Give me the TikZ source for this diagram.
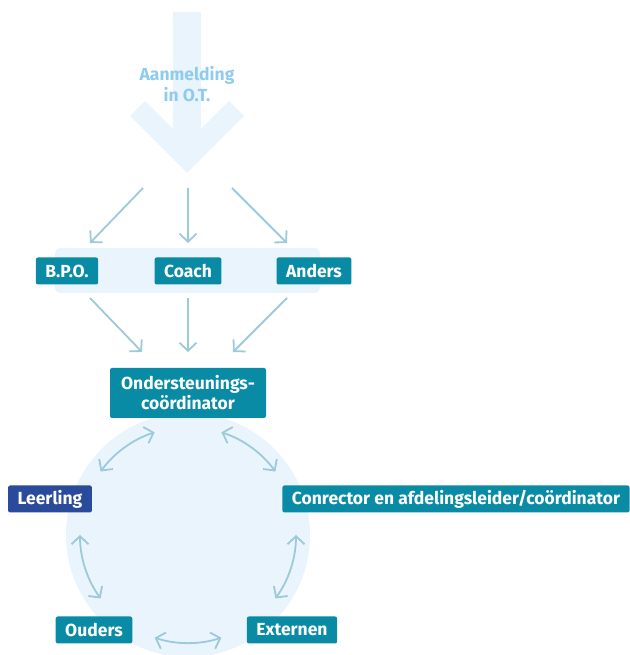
\documentclass[tikz,border=0pt]{standalone}
\usepackage{fontspec}
\setmainfont{Fira Sans}
\usepackage{tikz}
\usetikzlibrary{arrows.meta,positioning}

\definecolor{boxteal}{HTML}{0A8BA5}
\definecolor{boxblue}{HTML}{2A4B9C}
\definecolor{pale}{HTML}{EAF4FC}
\definecolor{flow}{HTML}{9DCAD9}
\definecolor{intake}{HTML}{8FCBEF}

\tikzset{
	role/.style={fill=boxteal, text=white, rounded corners=2pt, inner xsep=9.5pt,
		minimum height=27pt, font=\fontsize{17.5}{20}\selectfont\bfseries},
	pupil/.style={role, fill=boxblue},
	link/.style={draw=flow, line width=1.8pt, -{Straight Barb[length=8pt,width=17pt]}},
	both/.style={link, {Straight Barb[length=8pt,width=17pt]}-{Straight Barb[length=8pt,width=17pt]}}
}

\begin{document}
\begin{tikzpicture}[x=1pt, y=1pt]
	\useasboundingbox (0,0) rectangle (629,655);
	
	% backgrounds
	\fill[pale] (187,482) -- (130,539) -- (145,554) -- (173,526) -- (173,643)
		-- (201,643) -- (201,526) -- (229,554) -- (244,539) -- cycle;
	\fill[pale, rounded corners=5pt] (55,362) rectangle (320,407);
	\coordinate (mid) at (188,120);
	\fill[pale] (mid) circle[radius=122];
	
	\node[text=intake, font=\fontsize{17.5}{20}\selectfont\bfseries] (aan) at (187,580) {Aanmelding};
	\node[text=intake, font=\fontsize{17.5}{20}\selectfont\bfseries, below=-4pt of aan] (ot) {in O.T.};
	
	% top row
	\coordinate (inl) at (143,467);
	\coordinate (inm) at (188,467);
	\coordinate (inr) at (232,467);
	\node[role] (bpo) at (67,384) {B.P.O.};
	\node[role] (coach) at (188,384) {Coach};
	\node[role] (anders) at (314,384) {Anders};
	
	\draw[link] (inl) -- (90,412);
	\draw[link] (inm) -- (188,412);
	\draw[link] (inr) -- (287,412);
	
	% coordinator
	\node[role, align=center, minimum width=156pt, minimum height=50pt, inner ysep=2pt] (osc) at (188,262)
		{Ondersteunings-\\coördinator};
	
	\draw[link] (90,357) -- (142,303);
	\draw[link] (188,357) -- (188,303);
	\draw[link] (287,357) -- (233,303);
	
	% circle of partners
	\node[pupil] (leerling) at (50,156) {Leerling};
	\node[role] (conrector) at (456,156) {Conrector en afdelingsleider/coördinator};
	\node[role] (ouders) at (94,25) {Ouders};
	\node[role] (externen) at (292,25) {Externen};
	
	\foreach \a in {36,108,180,252,324}
		\draw[both] ([shift={(\a:108)}]mid) arc[start angle=\a, end angle=\a+36, radius=108];
\end{tikzpicture}
\end{document}
